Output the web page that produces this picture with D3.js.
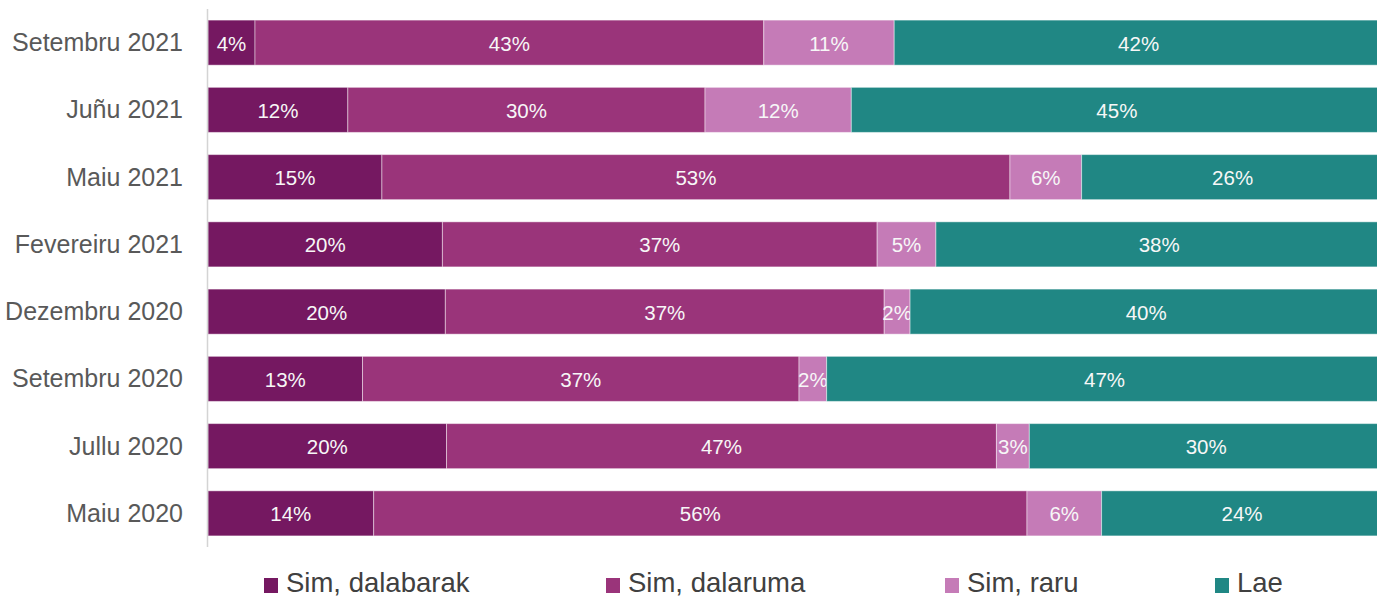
<!DOCTYPE html>
<html>
<head>
<meta charset="utf-8">
<script src="https://cdn.jsdelivr.net/npm/d3@7"></script>
<style>
    body { margin: 0; background: #fff; }
    svg { display: block; }
</style>
</head>
<body>
<script>
    'use strict';

    // data (shares in %)
    let months = ["Setembru 2021", "Juñu 2021", "Maiu 2021", "Fevereiru 2021",
        "Dezembru 2020", "Setembru 2020", "Jullu 2020", "Maiu 2020"];
    let seriesNames = ["Sim, dalabarak", "Sim, dalaruma", "Sim, raru", "Lae"];
    let dalabarak = [4.0, 11.9, 14.8, 19.95, 20.2, 13.15, 20.3, 14.1];
    let dalaruma  = [43.3, 30.4, 53.45, 37.0, 37.35, 37.15, 46.8, 55.6];
    let raru      = [11.1, 12.45, 6.1, 5.0, 2.2, 2.35, 2.8, 6.35];
    let lae       = [41.6, 45.2, 25.7, 38.0, 40.2, 47.3, 30.1, 23.9];
    let colors = ["#751861", "#9a347a", "#c57bb7", "#208784"];

    let w = 1377;
    let h = 597;
    let plotLeft = 208, plotRight = 1383, plotTop = 9, plotBottom = 547;

    let rows = months.map(function (m, i) {
        return { month: m, 0: dalabarak[i], 1: dalaruma[i], 2: raru[i], 3: lae[i] };
    });
    let stack = d3.stack().keys([0, 1, 2, 3])(rows);

    let x = d3.scaleLinear().domain([0, 100]).range([plotLeft, plotRight]);
    let y = d3.scaleBand().domain(months).range([plotTop, plotBottom]).paddingInner(0.33).paddingOuter(0.165);

    //Create SVG element
    let svg = d3.select("body")
        .append("svg")
        .attr("width", w)
        .attr("height", h);

    let layers = svg.append("g").selectAll("g")
        .data(stack)
        .enter()
        .append("g")
        .attr("fill", function (d, i) { return colors[i]; });

    layers.selectAll("rect")
        .data(function (d) { return d; })
        .enter()
        .append("rect")
        .attr("x", function (d) { return x(d[0]); })
        .attr("y", function (d) { return y(d.data.month); })
        .attr("width", function (d) { return x(d[1]) - x(d[0]); })
        .attr("height", y.bandwidth())
        .attr("stroke", "rgba(255,255,255,0.45)")
        .attr("stroke-width", 1);

    // value labels
    layers.selectAll("text")
        .data(function (d) { return d; })
        .enter()
        .append("text")
        .attr("x", function (d) { return (x(d[0]) + x(d[1])) / 2; })
        .attr("y", function (d) { return y(d.data.month) + y.bandwidth() / 2 + 8; })
        .attr("text-anchor", "middle")
        .attr("font-family", "Liberation Sans, Arial, sans-serif")
        .attr("font-size", "20.5px")
        .attr("fill", "#f7f7f7")
        .text(function (d) { return Math.round(d[1] - d[0]) + "%"; });

    // category axis
    svg.append("line")
        .attr("x1", plotLeft - 0.5)
        .attr("x2", plotLeft - 0.5)
        .attr("y1", plotTop)
        .attr("y2", plotBottom)
        .attr("stroke", "#d4d4d4")
        .attr("stroke-width", 1.5);

    svg.append("g").selectAll("text")
        .data(months)
        .enter()
        .append("text")
        .attr("x", 183)
        .attr("y", function (d) { return y(d) + y.bandwidth() / 2 + 8.5; })
        .attr("text-anchor", "end")
        .attr("font-family", "Liberation Sans, Arial, sans-serif")
        .attr("font-size", "25px")
        .attr("fill", "#595959")
        .text(function (d) { return d; });

    // legend
    let legendX = [264, 606, 945, 1215];
    let legend = svg.append("g").selectAll("g")
        .data(seriesNames)
        .enter()
        .append("g")
        .attr("transform", function (d, i) { return "translate(" + legendX[i] + ",578)"; });

    legend.append("rect")
        .attr("width", 14)
        .attr("height", 15)
        .attr("fill", function (d, i) { return colors[i]; });

    legend.append("text")
        .attr("x", 22)
        .attr("y", 14)
        .attr("font-family", "Liberation Sans, Arial, sans-serif")
        .attr("font-size", "27.5px")
        .attr("fill", "#404040")
        .text(function (d) { return d; });
</script>
</body>
</html>
